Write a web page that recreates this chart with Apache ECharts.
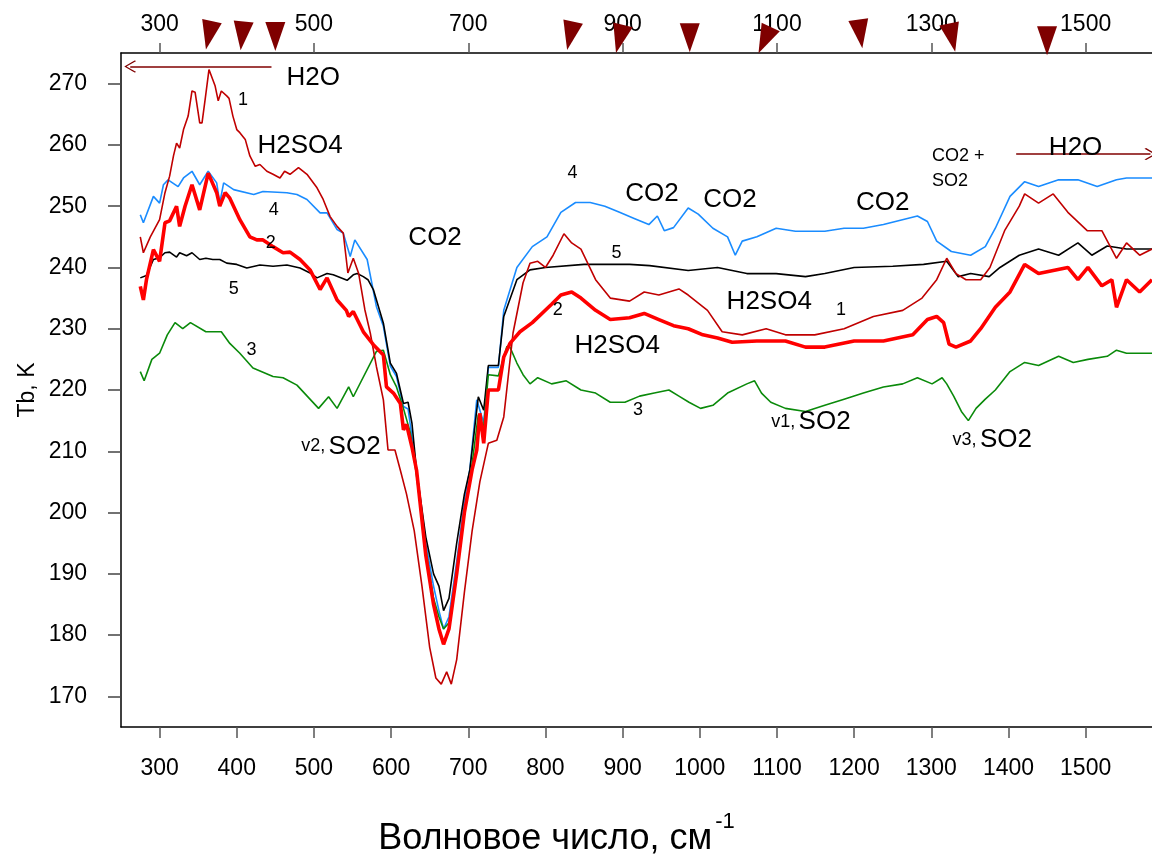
<!DOCTYPE html>
<html>
<head>
<meta charset="utf-8">
<script src="https://cdn.jsdelivr.net/npm/echarts@6/dist/echarts.min.js"></script>
<style>
html, body { margin: 0; padding: 0; background: #fff; }
#chart { width: 1152px; height: 855px; }
</style>
</head>
<body>
<div id="chart"></div>
<script>
// axis ticks
const bottomTicks = [300, 400, 500, 600, 700, 800, 900, 1000, 1100, 1200, 1300, 1400, 1500];
const topTicks = [300, 500, 700, 900, 1100, 1300, 1500];
const tbTicks = [170, 180, 190, 200, 210, 220, 230, 240, 250, 260, 270];

// spectra: [wavenumber, Tb]
const curve1 = [[275,245],[279,242.4],[288,245],[300,247.8],[307,252.2],[313,254.9],[318,258.2],[322,260.3],[326,259.5],[331,262.5],[337,264.7],[342,268.8],[346,268.6],[352,263.6],[355,263.6],[359,267.4],[364,272.3],[372,269.6],[376,267.2],[380,268.8],[387,268],[390,267.6],[395,264.7],[400,262.5],[404,262],[411,260.9],[417,258.2],[424,256.5],[430,256.8],[439,255.7],[447,255.2],[456,254.6],[462,255.7],[469,255.2],[480,256.3],[491,255.2],[504,253],[512,251.1],[521,248.3],[530,246.7],[538,245.6],[544,239.1],[551,241.5],[558,239],[566,233.1],[573,229.3],[581,223.8],[590,218.4],[596,210.2],[605,210.2],[612,206.9],[620,203],[630,197],[640,188],[650,178],[658,173],[665,172],[672,174],[678,172],[685,176],[695,187],[705,197],[715,205],[726,211.3],[737,211.8],[746,215.6],[758,229.3],[771,237.5],[780,240.7],[790,241],[800,240],[810,242],[824,245.5],[834,244],[846,243],[865,238],[884,235],[909,234.5],[928,236],[947,235.5],[973,236.5],[985,235.5],[1010,233],[1029,229.5],[1055,229],[1086,230],[1111,229],[1149,229],[1187,230],[1225,232],[1263,233],[1288,235],[1307,238],[1320,241.5],[1332,239],[1345,238],[1364,238],[1376,240],[1395,246],[1414,250],[1421,252],[1439,250.5],[1458,252],[1477,249],[1502,246],[1521,246],[1540,241.5],[1553,244],[1570,242],[1586,243]];
const curve2 = [[275,236.9],[279,234.7],[283,238],[292,242.9],[300,241],[307,247.3],[313,247.6],[322,250],[326,246.7],[333,250],[342,253.5],[352,249.4],[363,255.4],[374,252.2],[378,250],[385,252.2],[391,251.3],[404,247.8],[417,245],[426,244.5],[434,244.5],[447,243.4],[460,242.4],[469,242.5],[482,241.3],[495,239.6],[508,236.4],[517,238.3],[530,234.7],[542,233],[545,232],[551,232.8],[564,229.5],[577,227.4],[590,225.7],[594,220.5],[603,219.5],[612,217.8],[616,213.5],[620,214.4],[627,210.7],[633,206.9],[645,193],[655,185],[662,181],[668,178.5],[675,181],[685,190],[695,200],[705,207],[711,210.2],[715,216.2],[720,211.3],[726,220],[739,220],[746,225.4],[754,227.6],[767,229.5],[783,231],[808,234],[820,235.5],[834,236],[846,235],[865,233],[884,231.5],[909,231.8],[928,232.5],[947,231.5],[966,230.5],[985,230],[1004,229],[1023,228.5],[1042,227.8],[1074,228],[1111,228],[1137,227],[1162,227],[1200,228],[1238,228],[1276,229],[1295,231.5],[1307,232],[1316,231],[1323,227.5],[1332,227],[1351,228],[1364,230],[1383,233.5],[1402,236],[1421,240.5],[1439,239],[1458,239.5],[1477,240],[1490,238],[1503,240],[1521,237],[1534,238],[1540,233.5],[1553,238],[1570,236],[1586,238]];
const curve3 = [[275,223],[280,221.5],[290,225],[300,226],[310,229],[320,231],[330,230],[340,231],[360,229.5],[380,229.5],[391,227.6],[404,226],[421,223.6],[447,222.2],[460,222],[478,220.8],[506,217],[519,218.9],[530,217],[545,220.5],[551,218.9],[581,226.3],[590,226.5],[599,222.5],[607,220.5],[616,217],[625,213],[633,206],[645,194],[655,186],[662,183],[668,181],[675,182],[685,190],[695,200],[705,208],[713,216],[720,214],[726,222.5],[739,222.3],[750,227.1],[754,227],[763,224.4],[771,222.5],[780,221],[790,222],[808,221],[827,221.5],[846,220],[865,219.5],[884,218],[903,218],[922,219],[941,219.5],[960,220],[973,219],[986,218],[1001,217],[1017,217.5],[1036,219.5],[1061,221],[1071,221.5],[1080,219.5],[1092,218],[1111,217],[1137,216.5],[1162,217.5],[1187,218.5],[1212,219.5],[1238,220.5],[1263,221],[1282,222],[1301,221],[1314,222],[1320,221],[1329,219],[1339,216.5],[1348,215],[1358,217],[1370,218.5],[1383,220],[1402,223],[1421,224.5],[1439,224],[1465,225.5],[1484,224.5],[1503,225],[1528,225.5],[1540,226.5],[1553,226],[1586,226]];
const curve4 = [[275,248.6],[279,247.3],[292,251.6],[300,250.5],[305,253.5],[311,254.3],[324,253.2],[331,254.6],[342,255.7],[352,253.5],[363,255.7],[374,253.8],[378,250.5],[383,253.8],[396,252.7],[422,251.9],[434,252.4],[465,252.2],[478,251.9],[491,251.1],[508,248.9],[517,248.9],[530,246.2],[538,245.6],[547,241.8],[553,244.5],[569,241.3],[581,233.6],[590,230.4],[599,223.9],[607,222.2],[616,217.3],[622,216.9],[633,207],[645,195],[655,188],[662,184],[668,181],[675,183],[685,192],[695,202],[702,207],[711,218.4],[720,214.6],[726,223.7],[739,223.7],[746,233],[763,240],[783,243.4],[802,245],[820,249],[839,250.6],[858,250.6],[877,250],[896,249],[915,248],[934,247],[945,248.4],[954,246],[966,246.5],[985,249.7],[998,248.7],[1017,246.4],[1036,245],[1046,242],[1055,244.3],[1074,245],[1099,246.4],[1124,245.9],[1162,245.9],[1187,246.4],[1212,246.4],[1238,247],[1282,248.4],[1295,247.5],[1307,244.3],[1326,242.6],[1351,242],[1370,243.4],[1383,246.4],[1402,251.6],[1421,254],[1439,253.2],[1465,254.3],[1490,254.3],[1515,253.2],[1540,254.3],[1553,254.6],[1586,254.6]];
const curve5 = [[275,238.3],[283,238.7],[292,241.3],[300,241.6],[307,242.4],[313,242.5],[322,241.7],[326,242.4],[335,241.9],[342,242.4],[352,241.3],[360,241.5],[369,241.3],[378,241.3],[387,240.7],[400,240.5],[413,239.9],[430,240.4],[447,240.2],[465,240.4],[482,239.9],[495,239.1],[504,238.3],[517,239],[525,238.8],[543,237.9],[551,238.8],[556,239],[564,238.5],[570,238],[577,236.4],[590,230.9],[599,224.4],[607,222.7],[616,217.8],[622,218],[627,214.6],[633,206.9],[645,196],[655,190],[662,188],[668,184],[675,186],[685,195],[695,203],[702,206.9],[713,218.9],[720,216.7],[726,224],[739,224],[746,232],[763,238],[780,239.6],[800,240],[850,240.5],[909,240.5],[935,240.3],[985,239.5],[1023,240],[1061,239],[1099,239],[1137,238.5],[1162,239],[1200,240],[1250,240.2],[1290,240.5],[1320,241],[1335,238.5],[1351,239],[1375,238.5],[1389,240],[1414,242],[1439,243],[1465,242],[1490,244],[1508,242],[1528,243.5],[1553,243],[1586,243]];

// band markers along the top axis
const markerWn = [364, 407, 450, 832, 896, 987, 1084, 1208, 1327, 1450];
const markerTb = [277.9, 277.8, 277.7, 277.8, 277.3, 277.5, 277.1, 278.1, 277.5, 277.0];
const markerTilt = [-12, -6, 0, -12, -14, 0, -25, 8, 12, 0];

// annotation texts: [wavenumber, Tb, text]
const notes = [
  [499, 271.0, 'H2O'], [408, 267.4, '1'], [482, 259.9, 'H2SO4'], [448, 249.4, '4'],
  [444, 244.0, '2'], [396, 236.4, '5'], [419, 226.5, '3'], [535, 210.8, 'v2, SO2'],
  [657, 244.8, 'CO2'], [835, 255.4, '4'], [938, 252.0, 'CO2'], [1039, 251.1, 'CO2'],
  [1237, 250.5, 'CO2'], [892, 242.3, '5'], [816, 233.0, '2'], [893, 227.2, 'H2SO4'],
  [1090, 234.4, 'H2SO4'], [1183, 233.1, '1'], [920, 216.7, '3'], [1144, 214.8, 'v1, SO2'],
  [1379, 211.8, 'v3, SO2'], [1335, 256.2, 'CO2 +\nSO2'], [1487, 259.5, 'H2O']
];

// H2O arrows: [from, to] in [wavenumber, Tb]
const arrows = [
  [[445, 272.8], [262, 272.8]],
  [[1410, 258.5], [1584, 258.5]]
];

const FONT = '"Liberation Sans", Arial, sans-serif';
const chart = echarts.init(document.getElementById('chart'));

const lineSeries = (name, data, color, width) => ({
  name: name,
  type: 'line',
  data: data,
  showSymbol: false,
  symbol: 'none',
  lineStyle: { color: color, width: width },
  itemStyle: { color: color },
  animation: false,
});

const noteFormatter = (p) => {
  const t = p.data[2];
  if (/^\d$/.test(t)) return '{n|' + t + '}';
  const m = t.match(/^(v\d,)\s(.+)$/);
  if (m) return '{s|' + m[1] + '} {b|' + m[2] + '}';
  if (t.indexOf('\n') >= 0) return t.split('\n').map((x) => '{s|' + x + '}').join('\n');
  return '{b|' + t + '}';
};

const axisText = { color: '#000', fontFamily: FONT, fontSize: 23, formatter: (v) => String(v) };

const option = {
  backgroundColor: '#fff',
  animation: false,
  grid: { left: 121, top: 53, right: 0, bottom: 128, outerBoundsMode: 'none' },
  xAxis: [
    {
      type: 'value', min: 250, max: 1586, position: 'bottom',
      name: '{a|Волновое число, см}{b|-1}',
      nameLocation: 'middle', nameGap: 84, nameMoveOverlap: false,
      nameTextStyle: {
        padding: [0, 160, 0, 0],
        rich: {
          a: { fontSize: 36, fontFamily: FONT, color: '#000', lineHeight: 46, verticalAlign: 'bottom' },
          b: { fontSize: 22, fontFamily: FONT, color: '#000', lineHeight: 46, verticalAlign: 'top', padding: [0, 0, 0, 3] },
        },
      },
      axisLine: { show: true, onZero: false, lineStyle: { color: '#000', width: 1.5 } },
      axisTick: { show: true, customValues: bottomTicks, length: 11, lineStyle: { color: '#555', width: 1.5 } },
      axisLabel: Object.assign({ customValues: bottomTicks, margin: 30 }, axisText),
      splitLine: { show: false },
    },
    {
      type: 'value', min: 250, max: 1586, position: 'top',
      axisLine: { show: true, onZero: false, lineStyle: { color: '#000', width: 1.5 } },
      axisTick: { show: true, customValues: topTicks, length: 10, lineStyle: { color: '#555', width: 1.5 } },
      axisLabel: Object.assign({ customValues: topTicks, margin: 17 }, axisText),
      splitLine: { show: false },
    },
  ],
  yAxis: {
    type: 'value', min: 165, max: 275,
    name: 'Tb, K', nameLocation: 'middle', nameGap: 82, nameRotate: 90, nameMoveOverlap: false,
    nameTextStyle: { fontSize: 23, color: '#000', fontFamily: FONT },
    axisLine: { show: true, onZero: false, lineStyle: { color: '#000', width: 1.5 } },
    axisTick: { show: true, customValues: tbTicks, length: 13, lineStyle: { color: '#444', width: 1.5 } },
    axisLabel: Object.assign({ customValues: tbTicks, margin: 34 }, axisText),
    splitLine: { show: false },
  },
  series: [
    lineSeries('4', curve4, '#1a8cff', 1.6),
    lineSeries('5', curve5, '#000000', 1.6),
    lineSeries('3', curve3, '#0a8a0a', 1.6),
    lineSeries('1', curve1, '#c00000', 1.6),
    lineSeries('2', curve2, '#ff0000', 3.6),
    {
      type: 'scatter',
      clip: false,
      z: 5,
      symbol: 'triangle',
      symbolSize: [20, 29],
      itemStyle: { color: '#7f0000', opacity: 1 },
      data: markerWn.map((w, i) => ({ value: [w, markerTb[i]], symbolRotate: 180 + markerTilt[i] })),
      animation: false,
    },
    {
      type: 'lines',
      coordinateSystem: 'cartesian2d',
      xAxisIndex: 0,
      yAxisIndex: 0,
      symbol: ['none', 'path://M0,0 L10,9 L9,10.5 L0,2 L-9,10.5 L-10,9 Z'],
      symbolSize: [14, 12],
      lineStyle: { color: '#800000', width: 1.5, opacity: 1, curveness: 0 },
      data: arrows.map((a) => ({ coords: a })),
      animation: false,
    },
    {
      type: 'scatter',
      clip: false,
      z: 6,
      symbol: 'circle',
      symbolSize: 1,
      itemStyle: { color: 'rgba(0,0,0,0)', opacity: 1 },
      data: notes,
      label: {
        show: true,
        position: 'inside',
        formatter: noteFormatter,
        color: '#000',
        opacity: 1,
        fontFamily: FONT,
        rich: {
          b: { fontSize: 26, fontFamily: FONT, color: '#000' },
          n: { fontSize: 18, fontFamily: FONT, color: '#000' },
          s: { fontSize: 18, fontFamily: FONT, color: '#000', lineHeight: 25, align: 'left' },
        },
      },
      emphasis: { disabled: true },
      animation: false,
    },
  ],
};

chart.setOption(option);
</script>
</body>
</html>
